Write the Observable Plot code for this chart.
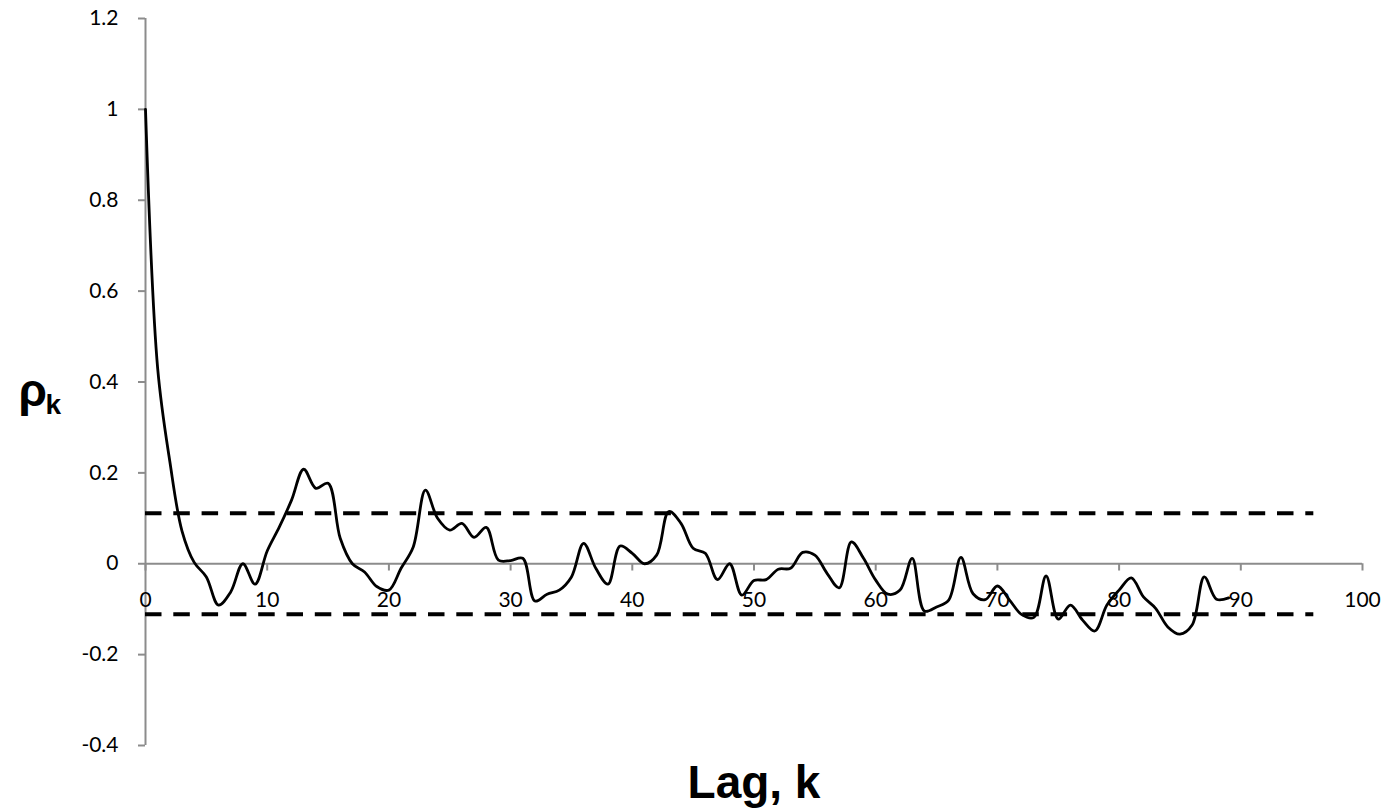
<!DOCTYPE html>
<html>
<head>
<meta charset="utf-8">
<script src="https://cdn.jsdelivr.net/npm/d3@7"></script>
<script src="https://cdn.jsdelivr.net/npm/@observablehq/plot@0.6"></script>
<style>
  html, body { margin: 0; padding: 0; background: #fff; }
</style>
</head>
<body>
<div id="chart"></div>
<script>
// Lags (k) and sample autocorrelation values (rho_k)
const lags = [
  0,1,2,3,4,5,6,7,8,9,
  10,11,12,13,14,15,16,17,18,19,
  20,21,22,23,24,25,26,27,28,29,
  30,31,32,33,34,35,36,37,38,39,
  40,41,42,43,44,45,46,47,48,49,
  50,51,52,53,54,55,56,57,58,59,
  60,61,62,63,64,65,66,67,68,69,
  70,71,72,73,74,75,76,77,78,79,
  80,81,82,83,84,85,86,87,88,89
];
const rho = [
  1.0, 0.43, 0.225, 0.072, 0.003, -0.029, -0.091, -0.062, 0.0, -0.045,
  0.028, 0.081, 0.14, 0.208, 0.166, 0.177, 0.056, 0.0, -0.018, -0.05,
  -0.058, -0.01, 0.037, 0.162, 0.10, 0.074, 0.089, 0.058, 0.08, 0.008,
  0.007, 0.012, -0.082, -0.067, -0.058, -0.029, 0.045, -0.01, -0.045, 0.039,
  0.023, 0.0, 0.019, 0.115, 0.089, 0.034, 0.023, -0.035, 0.0, -0.069,
  -0.037, -0.035, -0.012, -0.01, 0.025, 0.019, -0.021, -0.053, 0.048, 0.012,
  -0.036, -0.067, -0.058, 0.012, -0.104, -0.095, -0.08, 0.014, -0.066, -0.079,
  -0.049, -0.08, -0.112, -0.118, -0.027, -0.122, -0.091, -0.124, -0.148, -0.091,
  -0.058, -0.031, -0.073, -0.098, -0.139, -0.155, -0.135, -0.029, -0.078, -0.075
];
// Significance bounds (dashed lines) and their lag extent
const bandLimits = [0.111, -0.111];
const bandStart = 0;
const bandEnd = 96;
// Axis ticks
const xTicks = [0,10,20,30,40,50,60,70,80,90,100];
const yTicks = [-0.4,-0.2,0,0.2,0.4,0.6,0.8,1,1.2];
const xTitle = "Lag, k";
const yTitleMain = "ρ";
const yTitleSub = "k";

const data = lags.map((k, i) => ({k, r: rho[i]}));
const axisGray = "#8c8c8c";
const tickFont = "Lato, 'Open Sans', sans-serif";
const titleFont = "'Liberation Sans', Arial, sans-serif";

const chart = Plot.plot({
  width: 1386,
  height: 810,
  marginLeft: 145,
  marginRight: 24,
  marginTop: 18,
  marginBottom: 65,
  style: {background: "#fff", color: "#000", fontFamily: tickFont, fontSize: "21px"},
  x: {domain: [0, 100], axis: null},
  y: {domain: [-0.4, 1.2], axis: null},
  marks: [
    // y axis line
    Plot.ruleX([0], {stroke: axisGray, strokeWidth: 2}),
    // y ticks and labels
    Plot.axisY(yTicks, {
      anchor: "left",
      label: null,
      tickSize: 7,
      tickPadding: 20,
      stroke: axisGray,
      strokeWidth: 2,
      fill: "#000",
      fontSize: 21,
      tickFormat: d => String(+d.toFixed(1))
    }),
    // x axis line at zero
    Plot.ruleY([0], {stroke: axisGray, strokeWidth: 2}),
    // x ticks (pointing down)
    Plot.ruleX(xTicks, {x: d => d, y1: 0, y2: -0.016, stroke: axisGray, strokeWidth: 2}),
    // x tick labels
    Plot.text(xTicks, {x: d => d, y: 0, dy: 37, text: d => String(d), fill: "#000", fontSize: 21, lineAnchor: "middle"}),
    // dashed significance bounds
    Plot.ruleY(bandLimits, {x1: bandStart, x2: bandEnd, stroke: "#000", strokeWidth: 4, strokeDasharray: "16.5,11.8"}),
    // ACF line
    Plot.line(data, {x: "k", y: "r", curve: "catmull-rom", stroke: "#000", strokeWidth: 2.8}),
    // axis titles
    Plot.text([xTitle], {frameAnchor: "bottom", text: d => d, dy: 52, lineAnchor: "bottom", textAnchor: "middle",
      fontSize: 46, fontWeight: "bold", fontFamily: titleFont, fill: "#000"}),
    Plot.text([yTitleMain], {frameAnchor: "left", text: d => d, dx: -127, dy: 23.5, lineAnchor: "bottom", textAnchor: "start",
      fontSize: 46, fontWeight: "bold", fontFamily: titleFont, fill: "#000"}),
    Plot.text([yTitleSub], {frameAnchor: "left", text: d => d, dx: -100, dy: 31.5, lineAnchor: "bottom", textAnchor: "start",
      fontSize: 28, fontWeight: "bold", fontFamily: titleFont, fill: "#000"})
  ]
});
document.getElementById("chart").appendChild(chart);
</script>
</body>
</html>
